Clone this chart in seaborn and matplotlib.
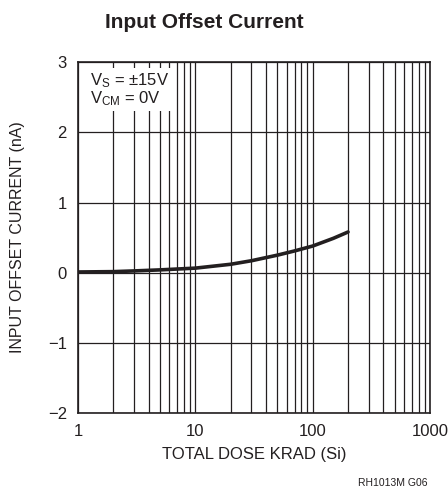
import numpy as np
import pandas as pd
import matplotlib
matplotlib.use("Agg")
import matplotlib.pyplot as plt
import seaborn as sns
from matplotlib.ticker import FixedLocator, NullFormatter

# curve
dose = [1, 2, 3, 5, 10, 20, 30, 50, 70, 100, 150, 200]
offset = [0.01, 0.015, 0.025, 0.04, 0.065, 0.12, 0.17, 0.25, 0.31, 0.38, 0.49, 0.58]
yticks = [-2, -1, 0, 1, 2, 3]
xticks = [1, 10, 100, 1000]

df = pd.DataFrame({"dose": dose, "offset": offset})

sns.set_style("white")
plt.rcParams["font.family"] = ["Liberation Sans", "DejaVu Sans"]

ink = "#231f20"
fig = plt.figure(figsize=(4.48, 4.94), dpi=100)
ax = fig.add_axes([0.174, 0.164, 0.786, 0.710])

sns.lineplot(data=df, x="dose", y="offset", ax=ax, color=ink, linewidth=2.6)

ax.set_xscale("log")
ax.set_xlim(1, 1000)
ax.set_ylim(-2, 3)
minor = [m * 10 ** e for e in range(0, 3) for m in range(2, 10)]
ax.xaxis.set_major_locator(FixedLocator(xticks))
ax.xaxis.set_minor_locator(FixedLocator(minor))
ax.xaxis.set_minor_formatter(NullFormatter())
ax.set_xticks(xticks)
ax.set_xticklabels([str(v) for v in xticks])
ax.set_yticks(yticks)
ax.set_yticklabels([str(v).replace("-", "\u2212") for v in yticks])
ax.grid(True, which="both", color=ink, linewidth=0.9)
ax.tick_params(which="both", length=0, labelsize=12, colors=ink, pad=8)
for s in ax.spines.values():
    s.set_color(ink)
    s.set_linewidth(1.2)

ax.set_xlabel("TOTAL DOSE KRAD (Si)", fontsize=12, color=ink, labelpad=6)
ax.set_ylabel("INPUT OFFSET CURRENT (nA)", fontsize=11.5, color=ink, labelpad=16)

ax.text(0.035, 0.975, "$\\mathregular{V_S}$ = \u00b115V\n$\\mathregular{V_{CM}}$ = 0V",
        transform=ax.transAxes, ha="left", va="top", fontsize=12, color=ink,
        linespacing=0.95,
        bbox=dict(facecolor="white", edgecolor="none", pad=2))

fig.text(0.235, 0.955, "Input Offset Current", fontsize=15, fontweight="bold",
         color=ink, ha="left", va="center")
fig.text(0.955, 0.012, "RH1013M G06", fontsize=7.5, color=ink, ha="right", va="bottom")

fig.savefig("out.png", dpi=100)
